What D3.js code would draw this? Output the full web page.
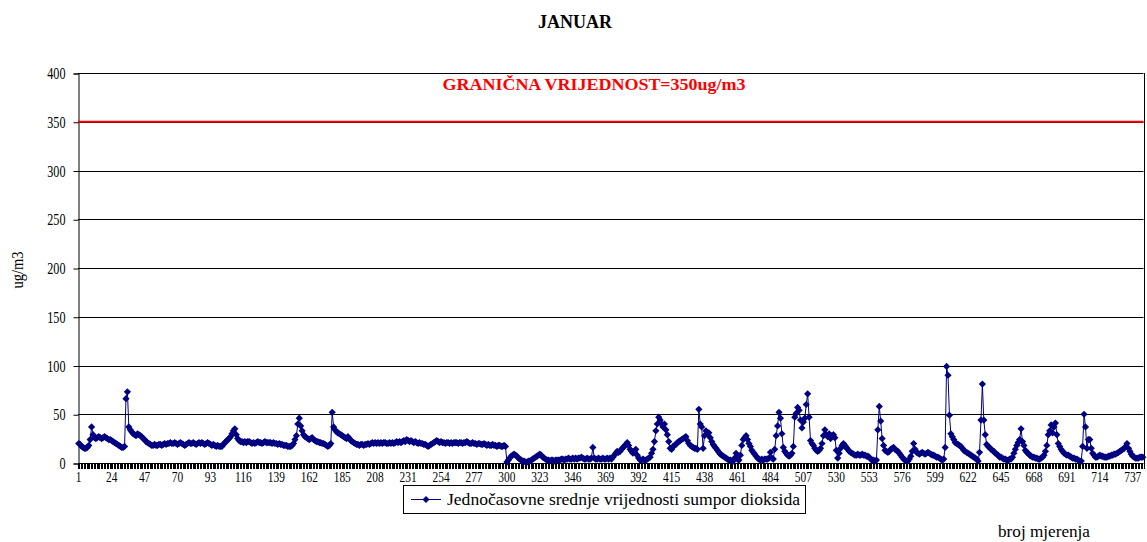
<!DOCTYPE html>
<html><head><meta charset="utf-8">
<script src="https://cdn.jsdelivr.net/npm/d3@7"></script>
<style>
body{margin:0;background:#fff}
svg text{font-family:"Liberation Serif","Times New Roman",serif;fill:#000}
</style>
</head><body>
<svg id="c" width="1147" height="542"></svg>
<script>
// hourly SO2 values, one array per day of January
const jan01=[20,19,17,16,15,15,16,18,24,37,29,26,25,26,27,26,25,26,27,26,25,24,24,23];
const jan02=[22,21,20,19,18,17,16,16,17,66,73,37,34,32,30,29,28,30,29,28,27,25,24,22];
const jan03=[21,20,19,18,18,19,18,18,19,19,18,19,20,19,20,20,21,20,20,21,20,19,20,21];
const jan04=[20,19,18,19,20,21,20,20,21,20,19,20,21,20,21,20,19,20,21,20,19,18,19,18];
const jan05=[17,18,17,17,17,19,21,22,24,25,27,30,33,35,29,25,23,22,22,21,22,21,22,22];
const jan06=[21,20,21,20,21,22,21,21,20,21,22,21,21,21,21,20,21,20,20,19,20,19,19,18];
const jan07=[18,18,17,17,17,18,20,24,28,40,46,38,33,29,27,26,25,24,25,26,24,23,22,22];
const jan08=[21,21,20,20,19,18,17,18,20,52,37,34,32,31,30,29,28,27,26,25,27,25,23,22];
const jan09=[21,20,19,19,18,19,19,18,19,19,20,19,20,21,20,21,20,21,20,21,20,21,21,20];
const jan10=[20,21,20,21,20,21,22,21,22,21,22,23,22,24,23,22,23,22,21,22,21,20,21,20];
const jan11=[20,19,19,18,17,18,19,20,21,22,23,22,21,22,21,21,20,21,21,20,21,20,21,21];
const jan12=[21,20,21,21,20,21,21,22,21,20,20,21,20,20,19,20,20,19,19,20,19,18,19,18];
const jan13=[18,19,18,18,17,18,18,17,17,18,17,1,3,5,7,8,9,8,7,5,4,3,2,2];
const jan14=[1,1,2,2,3,4,5,6,7,8,9,8,6,5,4,3,3,2,3,3,2,3,3,3];
const jan15=[3,4,4,3,4,4,5,4,4,5,4,5,4,5,5,6,5,4,4,5,4,4,5,16];
const jan16=[5,4,4,5,4,4,5,4,4,5,4,5,4,6,8,10,12,11,12,14,16,17,19,21];
const jan17=[18,14,12,10,12,14,8,5,3,3,4,3,3,4,5,6,10,14,22,33,40,47,44,40];
const jan18=[37,40,34,29,22,15,14,17,18,19,21,22,23,24,25,26,27,23,20,18,17,16,15,15];
const jan19=[14,55,40,37,15,28,33,30,31,26,22,19,17,15,13,11,9,8,7,6,5,4,3,3];
const jan20=[2,2,5,10,4,3,8,18,24,26,28,24,20,17,13,11,9,7,5,4,3,4,3,4];
const jan21=[4,4,5,11,5,4,14,28,38,52,46,30,16,12,10,8,7,8,10,17,47,51,57,54];
const jan22=[44,36,42,46,60,71,47,23,20,18,15,13,12,13,15,20,28,34,29,27,30,25,28,29];
const jan23=[26,13,5,10,15,18,20,18,16,14,12,11,10,9,8,8,9,8,8,9,8,8,7,7];
const jan24=[6,4,3,3,2,3,34,58,43,25,18,13,12,11,12,14,15,16,14,13,12,10,8,6];
const jan25=[4,3,2,2,4,7,12,20,14,11,10,9,10,11,10,9,10,11,10,9,8,8,7,6];
const jan26=[6,5,4,3,4,16,99,90,49,30,27,24,21,20,19,18,17,15,13,12,11,10,9,8];
const jan27=[7,6,5,4,2,11,44,81,44,29,19,17,16,14,13,12,10,9,8,6,6,5,4,4];
const jan28=[3,3,4,4,6,10,14,18,21,24,35,22,18,13,11,10,8,7,6,6,5,5,4,4];
const jan29=[5,6,8,12,18,29,33,39,31,37,41,29,20,17,14,12,10,9,8,8,7,6,5,5];
const jan30=[4,4,3,2,2,17,50,37,15,24,24,15,10,8,6,6,7,8,7,7,6,6,6,7];
const jan31=[7,8,8,9,9,10,11,12,13,14,15,17,20,15,12,9,7,6,5,5,5,6,6,6];

const xTickLabels=[1,24,47,70,93,116,139,162,185,208,231,254,277,300,323,346,369,392,415,438,461,484,507,530,553,576,599,622,645,668,691,714,737];
const yTicks=[0,50,100,150,200,250,300,350,400];
const limitValue=350;
const title="JANUAR";
const limitLabel="GRANIČNA VRIJEDNOST=350ug/m3";
const seriesName="Jednočasovne srednje vrijednosti sumpor dioksida";
const yTitle="ug/m3";
const xTitle="broj mjerenja";

const values=[].concat(jan01,jan02,jan03,jan04,jan05,jan06,jan07,jan08,jan09,jan10,jan11,jan12,jan13,jan14,jan15,jan16,jan17,jan18,jan19,jan20,jan21,jan22,jan23,jan24,jan25,jan26,jan27,jan28,jan29,jan30,jan31);
const categories=values.map((v,i)=>i+1);
const data=values.map((v,i)=>({c:categories[i],v:v}));

const navy="#000080";
const svg=d3.select("#c");
const P={l:78,r:1143.5,t:73,b:463};
const x=d3.scaleBand().domain(categories).range([P.l,P.r]).padding(0);
const y=d3.scaleLinear().domain([0,400]).range([P.b,P.t]);
const cx=c=>x(c)+x.bandwidth()/2;
const SQ=0.76;

function squish(sel,f){sel.each(function(){const n=this;const w=n.getComputedTextLength();d3.select(n).attr("textLength",w*(f||SQ)).attr("lengthAdjust","spacingAndGlyphs");});}

// title
svg.append("text").attr("x",575).attr("y",28).attr("text-anchor","middle")
  .attr("font-size",18).attr("font-weight","bold").text(title)
  .attr("textLength",74).attr("lengthAdjust","spacingAndGlyphs");

// gridlines
svg.append("g").selectAll("line").data(yTicks).join("line")
  .attr("x1",P.l).attr("x2",P.r).attr("y1",d=>Math.round(y(d))+0.5).attr("y2",d=>Math.round(y(d))+0.5)
  .attr("stroke","#000").attr("stroke-width",1);
svg.append("line").attr("x1",Math.round(P.r)+0.5).attr("x2",Math.round(P.r)+0.5).attr("y1",y(400)).attr("y2",y(0)).attr("stroke","#000");

// y axis
const ya=svg.append("g").attr("transform",`translate(${P.l+0.5},0.5)`)
  .call(d3.axisLeft(y).tickValues(yTicks).tickSize(5).tickPadding(8));
ya.select(".domain").attr("stroke","#000");
ya.selectAll("line").attr("stroke","#000");
ya.selectAll("text").attr("font-size",16).attr("font-family",null).call(squish);

// category tick marks (between categories)
svg.append("g").selectAll("line").data(categories.concat([categories.length+1])).join("line")
  .attr("x1",c=>Math.round(c<=categories.length?x(c):P.r)+0.5)
  .attr("x2",c=>Math.round(c<=categories.length?x(c):P.r)+0.5)
  .attr("y1",P.b).attr("y2",P.b+6).attr("stroke","#000").attr("stroke-width",1);

// x labels
const xa=svg.append("g").attr("transform",`translate(0,${P.b})`)
  .call(d3.axisBottom(x).tickValues(xTickLabels).tickSize(0).tickPadding(8));
xa.select(".domain").remove();
xa.selectAll("text").attr("font-size",15).attr("font-family",null).call(squish);

// limit line
svg.append("line").attr("x1",P.l).attr("x2",P.r).attr("y1",y(limitValue)).attr("y2",y(limitValue))
  .attr("stroke","#ff0000").attr("stroke-width",2);
svg.append("text").attr("x",594).attr("y",90).attr("text-anchor","middle")
  .attr("font-size",17).attr("font-weight","bold").style("fill","#ff0000").text(limitLabel)
  .attr("textLength",303).attr("lengthAdjust","spacingAndGlyphs");

// series line
svg.append("path").datum(data)
  .attr("d",d3.line().x(d=>cx(d.c)).y(d=>y(d.v)))
  .attr("fill","none").attr("stroke",navy).attr("stroke-width",1);
const mk=d3.symbol().type(d3.symbolSquare).size(26);
svg.append("g").selectAll("path").data(data).join("path")
  .attr("d",mk).attr("transform",d=>`translate(${cx(d.c)},${y(d.v)}) rotate(45)`)
  .attr("fill",navy);

// axis titles
svg.append("text").attr("transform","translate(23,270) rotate(-90)").attr("text-anchor","middle")
  .attr("font-size",16).text(yTitle).attr("textLength",37).attr("lengthAdjust","spacingAndGlyphs");
svg.append("text").attr("x",1044).attr("y",537).attr("text-anchor","middle")
  .attr("font-size",16).text(xTitle).attr("textLength",92).attr("lengthAdjust","spacingAndGlyphs");

// legend
const lg=svg.append("g");
lg.append("rect").attr("x",403.5).attr("y",485.5).attr("width",402).attr("height",28)
  .attr("fill","#fff").attr("stroke","#000");
lg.append("line").attr("x1",411).attr("x2",441).attr("y1",499.5).attr("y2",499.5).attr("stroke",navy);
lg.append("path").attr("d",mk).attr("transform","translate(426,499.5) rotate(45)").attr("fill",navy);
lg.append("text").attr("x",447).attr("y",505).attr("font-size",16).text(seriesName)
  .attr("textLength",353).attr("lengthAdjust","spacingAndGlyphs");
</script>
</body></html>
